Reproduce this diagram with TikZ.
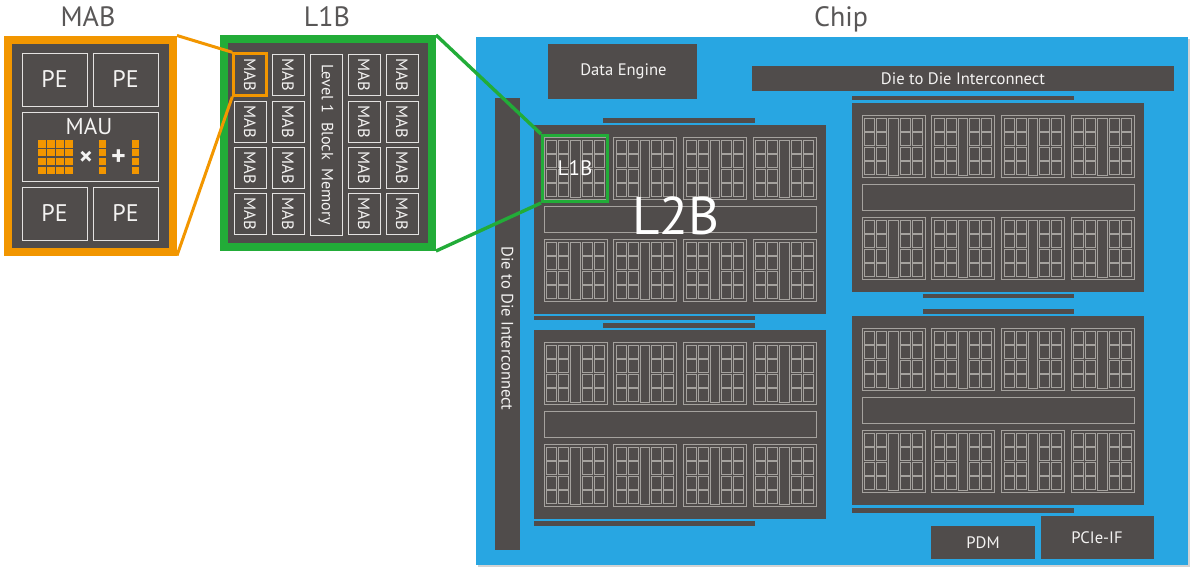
\documentclass[tikz,border=0pt]{standalone}
\usepackage{fontspec}
\setmainfont{PT Sans}
\usetikzlibrary{shapes,shadows}
\definecolor{diegray}{HTML}{504C4B}
\definecolor{chipblue}{HTML}{28A6E2}
\definecolor{maborange}{HTML}{F29600}
\definecolor{lbgreen}{HTML}{22AC38}
\definecolor{titlegray}{HTML}{595757}
\definecolor{tilegray}{HTML}{A5A29E}
\definecolor{labelwhite}{HTML}{F4F3F2}
\tikzset{
  diebox/.style={rectangle, fill=diegray, inner sep=0pt, text=labelwhite, font=\fontsize{16.6}{16.6}\selectfont},
  wirebox/.style={rectangle, draw=labelwhite!90!diegray, line width=1pt, fill=diegray, inner sep=0pt, text=labelwhite},
  framebox/.style={rectangle, fill=diegray, inner sep=0pt, line width=8pt,
    drop shadow={shadow xshift=2pt, shadow yshift=-2pt, opacity=.35}},
  cellbox/.style={rectangle, fill=maborange, inner sep=0pt, minimum width=7.6pt, minimum height=7.6pt},
  title/.style={text=titlegray, font=\fontsize{28}{28}\selectfont, inner sep=0pt, anchor=base},
  wire/.style={draw=tilegray, line width=0.95pt}
}
% one level 1 tile of the chip view, origin at its upper left corner
\newcommand{\lonetile}[2]{
  \begin{scope}[shift={(#1,#2)}]
    \draw[wire] (0,0) rectangle (63,62);
    \draw[wire] (26.7,2.7) rectangle (36.2,59.3);
    \foreach \cx in {2.7,14.7,38.2,50.2}
      \foreach \cy in {2.7,17,31.4,45.6}
        \draw[wire] (\cx,\cy) rectangle +(10,13);
  \end{scope}
}
% one level 2 block with its tiles and middle bar
\newcommand{\ltwoblock}[2]{
  \begin{scope}[shift={(#1,#2)}]
    \fill[diegray] (0,0) rectangle (291.5,189);
    \foreach \tx in {0,1,2,3}
      \foreach \ty in {0,1}
        \lonetile{10+69.67*\tx}{12.7+102*\ty}
    \draw[wire] (10,81.5) rectangle (282,107.5);
  \end{scope}
}
\begin{document}
\begin{tikzpicture}[x=1pt,y=-1pt]
\useasboundingbox (0,0) rectangle (1200,581);

\node[title] (mabtitle) at (88,26) {MAB};
\node[title] (lbtitle) at (327,26) {L1B};
\node[title] (chiptitle) at (841,26) {Chip};

% MAB close up
\node[framebox, draw=maborange, minimum width=165pt, minimum height=212pt] (mab) at (90.5,145.5) {};
\foreach \px/\py/\pn in {54.5/79.5/a, 125.5/79.5/b, 54.5/213.5/c, 125.5/213.5/d}
  \node[wirebox, minimum width=65pt, minimum height=53pt, font=\fontsize{24}{24}\selectfont] (pe\pn) at (\px,\py) {PE};
\node[wirebox, minimum width=136pt, minimum height=69pt] (mau) at (90,146.5) {};
\node[text=labelwhite, font=\fontsize{23}{23}\selectfont, inner sep=0pt] (maulabel) at (89,126) {MAU};
\foreach \cx in {0,1,2,3}
  \foreach \cy in {0,1,2,3}
    \node[cellbox] (mat\cx\cy) at (41.8+9*\cx,143.8+8.85*\cy) {};
\foreach \cy in {0,1,2,3}{
  \node[cellbox] (veca\cy) at (102.4,143.8+8.85*\cy) {};
  \node[cellbox] (vecb\cy) at (135.6,143.8+8.85*\cy) {};
}
\node[text=labelwhite, font=\bfseries\fontsize{26}{26}\selectfont, inner sep=0pt] (timeslabel) at (86,158) {×};
\node[text=labelwhite, font=\bfseries\fontsize{28}{28}\selectfont, inner sep=0pt] (pluslabel) at (118.5,157.5) {+};

% L1B close up
\node[framebox, draw=lbgreen, minimum width=208pt, minimum height=208pt] (lb) at (328,143) {};
\foreach \mx/\mc in {250/a, 288/b, 364/c, 402/d}
  \foreach \my/\mr in {74.5/a, 121.5/b, 167.5/c, 214/d}
    \node[wirebox, minimum width=32pt, minimum height=41pt, font=\fontsize{16.5}{16.5}\selectfont] (mab\mc\mr) at (\mx,\my) {\rotatebox{-90}{MAB}};
\node[wirebox, minimum width=32pt, minimum height=181pt, font=\fontsize{16.2}{16.2}\selectfont] (lbmem) at (326,144.5) {\rotatebox{-90}{Level 1\ \ Block\ \ Memory}};
\node[rectangle, draw=maborange, line width=2.4pt, inner sep=0pt, minimum width=33pt, minimum height=42pt] (mabhi) at (250,74.5) {};
\draw[maborange, line width=3pt] (mab.north east) -- (mabhi.north west);
\draw[maborange, line width=3pt] (mab.south east) -- (mabhi.south west);

% chip
\node[rectangle, fill=chipblue, inner sep=0pt, minimum width=712pt, minimum height=528pt,
  drop shadow={shadow xshift=2pt, shadow yshift=-2pt, opacity=.35}] (chip) at (832,301) {};
\node[diebox, minimum width=149pt, minimum height=55pt] (engine) at (622.5,71.5) {\hspace*{2pt}Data Engine};
\node[diebox, minimum width=422pt, minimum height=25pt] (dietop) at (963,78.5) {Die to Die Interconnect};
\node[diebox, minimum width=25pt, minimum height=452pt] (dieleft) at (507.5,324) {\rotatebox{-90}{\hspace*{9pt}Die to Die Interconnect}};
\node[diebox, minimum width=104pt, minimum height=33pt] (pdm) at (983,542.5) {PDM};
\node[diebox, minimum width=113pt, minimum height=43pt] (pcie) at (1097.5,537.5) {PCIe-IF\hspace*{1pt}};

\ltwoblock{534}{125}
\ltwoblock{534}{330}
\ltwoblock{852}{103}
\ltwoblock{852}{316}

% thin bars round the level 2 blocks
\foreach \bx/\by/\bw/\bn in {603/120.5/152/a, 534/318/221/b, 603/325.5/152/c, 534/523.5/221/d,
  852/98/222/e, 923/296/151/f, 923/311.5/151/g, 852/510.5/222/h}
  \node[diebox, anchor=west, minimum width=\bw pt, minimum height=4.6pt] (bar\bn) at (\bx,\by) {};

\node[rectangle, draw=lbgreen, line width=3pt, inner sep=0pt, minimum width=65pt, minimum height=66pt,
  text=white, font=\fontsize{21}{21}\selectfont] (lbhi) at (575,168.5) {L1B};
\node[text=white, font=\fontsize{53}{53}\selectfont, inner sep=0pt] (ltwolabel) at (676,216) {L2B};
\draw[lbgreen, line width=3.4pt] (lb.north east) -- (lbhi.north west);
\draw[lbgreen, line width=3.4pt] (lb.south east) -- (lbhi.south west);
\end{tikzpicture}
\end{document}
